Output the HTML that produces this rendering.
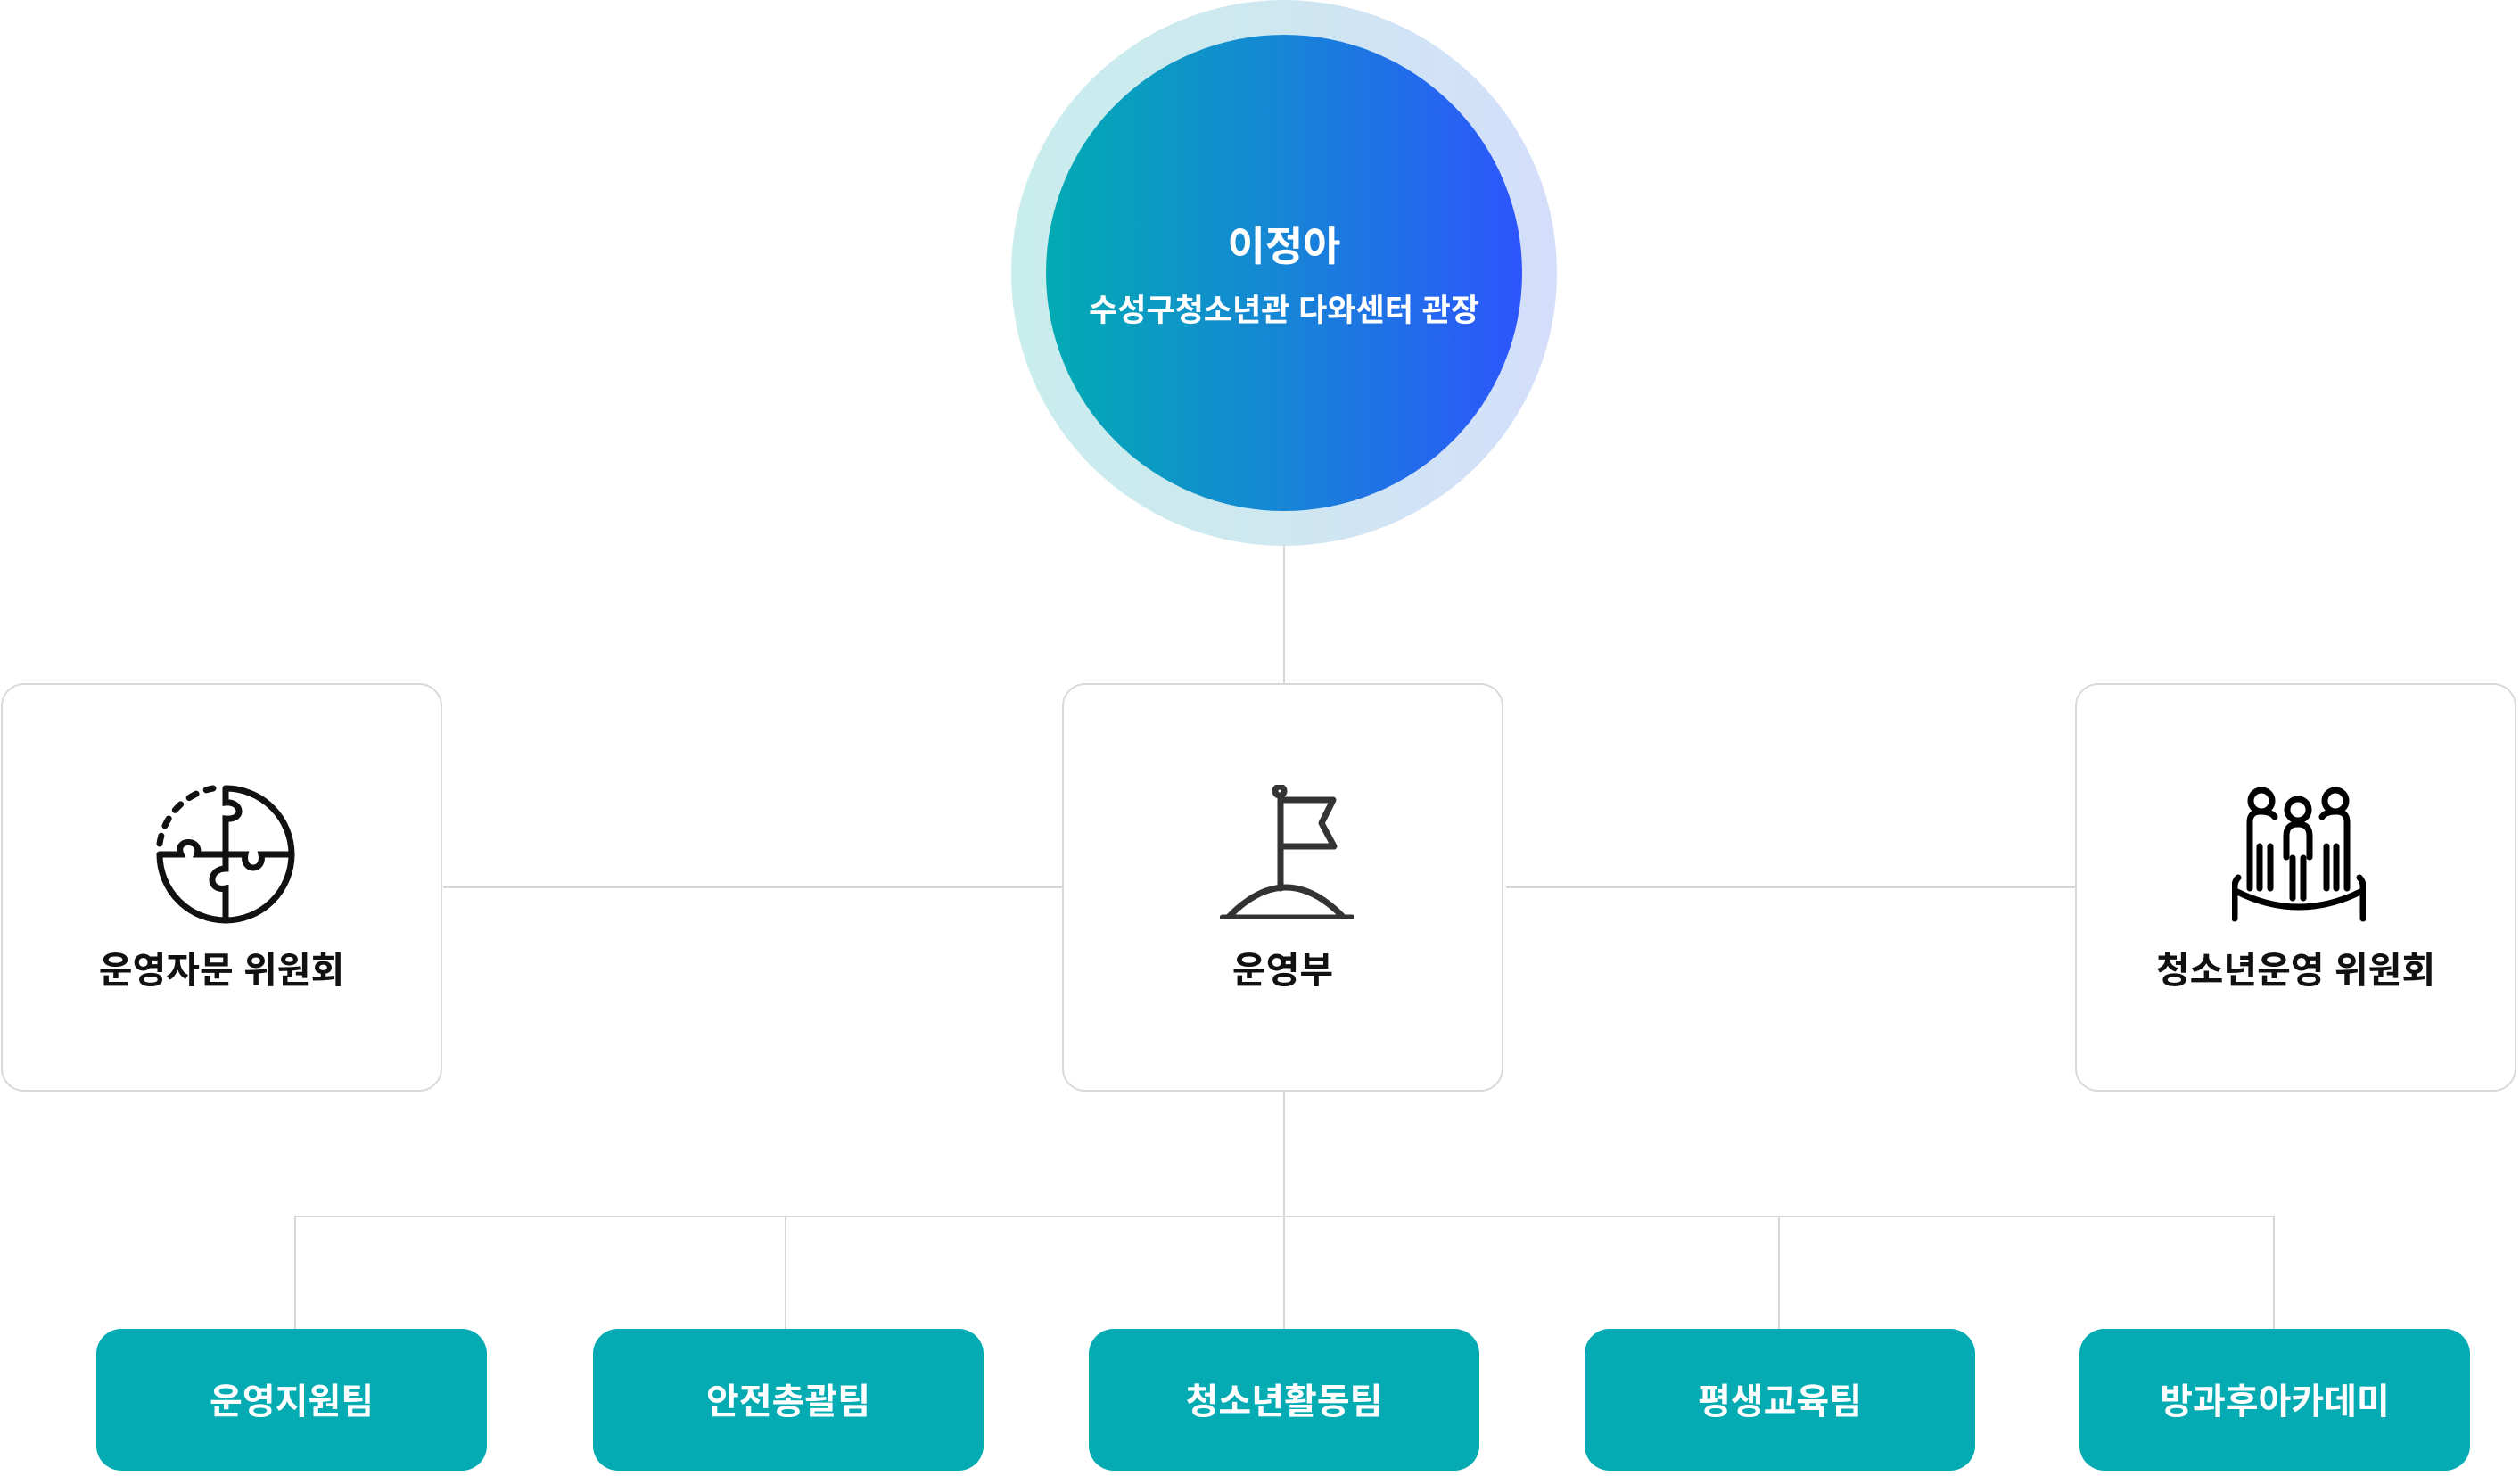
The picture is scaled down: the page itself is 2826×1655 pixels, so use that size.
<!DOCTYPE html>
<html><head><meta charset="utf-8"><style>
html,body{margin:0;padding:0;background:#fff}
body{width:2826px;height:1651px;position:relative;overflow:hidden;font-family:"Liberation Sans","Noto Sans CJK KR",sans-serif}
.ln{position:absolute;background:#d6d6d6}
.box{position:absolute;top:766px;width:495px;height:458px;border:2px solid #d9d9d9;border-radius:26px;box-sizing:border-box;background:#fff}
.box .t{position:absolute;left:0;right:0;top:286px;text-align:center;font-size:41px;font-weight:bold;color:#111}
.box svg{position:absolute}
.tm{position:absolute;top:1490px;width:438px;height:159px;border-radius:28px;background:#04abb2;color:#fff;font-size:40px;font-weight:bold;text-align:center;line-height:165px}
</style></head><body>
<div class="ln" style="left:1439px;top:600px;width:2px;height:166px"></div>
<div class="ln" style="left:497px;top:994px;width:694px;height:2px"></div>
<div class="ln" style="left:1689px;top:994px;width:638px;height:2px"></div>
<div class="ln" style="left:1439px;top:1224px;width:2px;height:266px"></div>
<div class="ln" style="left:330px;top:1363px;width:2221px;height:2px"></div>
<div class="ln" style="left:330px;top:1363px;width:2px;height:127px"></div>
<div class="ln" style="left:880px;top:1363px;width:2px;height:127px"></div>
<div class="ln" style="left:1994px;top:1363px;width:2px;height:127px"></div>
<div class="ln" style="left:2549px;top:1363px;width:2px;height:127px"></div>

<div style="position:absolute;left:1134px;top:0;width:612px;height:612px;border-radius:50%;background:linear-gradient(90deg,#c9eded 0%,#cde9ef 40%,#d4defb 100%)"></div>
<div style="position:absolute;left:1173px;top:39px;width:534px;height:534px;border-radius:50%;background:linear-gradient(90deg,#02abb3 0%,#1685d6 50%,#2d55fd 100%)"></div>
<div style="position:absolute;left:1173px;top:240px;width:534px;text-align:center;color:#fff;font-weight:bold;font-size:46px">이정아</div>
<div style="position:absolute;left:1173px;top:320px;width:534px;text-align:center;color:#fff;font-weight:bold;font-size:35px">수성구청소년관 다와센터 관장</div>

<div class="box" style="left:1px">
<svg style="left:170px;top:110px" width="160" height="160" viewBox="0 0 160 160" fill="none" stroke="#111" stroke-width="7" stroke-linecap="round">
<path d="M80 6 A74 74 0 0 1 80 154" />
<path d="M80 154 A74 74 0 0 1 6 80" />
<path d="M6 68 A74 74 0 0 1 66 6" stroke-dasharray="9 12"/>
<path d="M80 6 V22 C98 20 102 42 80 40 V80 M80 80 H102 C98 100 124 100 120 80 H154"/>
<path d="M6 80 H30 C22 62 54 62 48 80 H80 V96 C60 96 60 122 80 118 V154"/>
</svg>
<div class="t">운영자문 위원회</div>
</div>

<div class="box" style="left:1191px">
<svg style="left:175px;top:112px" width="150" height="150" viewBox="1366 878 150 150" fill="none" stroke="#333" stroke-width="7" stroke-linecap="round" stroke-linejoin="round">
<circle cx="1433" cy="885" r="5"/>
<path d="M1434 891 V994"/>
<path d="M1434 895 H1493 L1480 921 L1494 947 H1434"/>
<path d="M1376 1026 Q1440 960 1504 1026"/>
<path d="M1369 1027 H1514"/>
</svg>
<div class="t">운영부</div>
</div>

<div class="box" style="left:2327px">
<svg style="left:174px;top:114px" width="150" height="152" viewBox="2502 880 150 152" fill="none" stroke="#000" stroke-width="7" stroke-linecap="round" stroke-linejoin="round">
<circle cx="2535" cy="896" r="12"/><circle cx="2618" cy="896" r="12"/><circle cx="2576" cy="906" r="12"/>
<path d="M2522 947 V920 Q2522 908 2534 908 Q2546 908 2550 914"/>
<path d="M2631 947 V920 Q2631 908 2619 908 Q2607 908 2603 914"/>
<path d="M2563 959 V935 Q2563 922 2576 922 Q2589 922 2589 935 V959"/>
<path d="M2522 947 V994 M2533 947 V994 M2545 947 V994"/>
<path d="M2608 947 V994 M2619 947 V994 M2631 947 V994"/>
<path d="M2570 960 V1005 M2582 960 V1005"/>
<path d="M2509 982 Q2505 986 2505 992 V1028"/>
<path d="M2645 982 Q2649 986 2649 992 V1028"/>
<path d="M2508 998 Q2577 1032 2646 998"/>
</svg>
<div class="t">청소년운영 위원회</div>
</div>

<div class="tm" style="left:108px">운영지원팀</div>
<div class="tm" style="left:665px">안전총괄팀</div>
<div class="tm" style="left:1221px">청소년활동팀</div>
<div class="tm" style="left:1777px">평생교육팀</div>
<div class="tm" style="left:2332px">방과후아카데미</div>
</body></html>
